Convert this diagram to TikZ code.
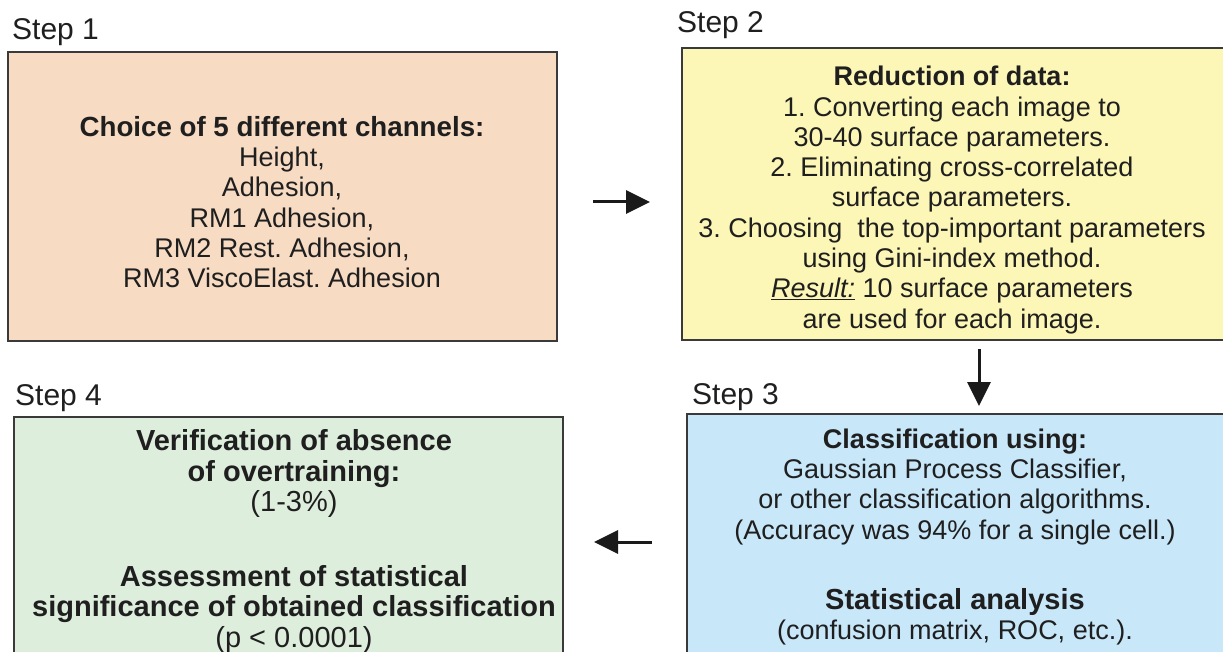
\documentclass[tikz,border=0pt]{standalone}
\usepackage{fontspec}
\setmainfont{Liberation Sans}
\usetikzlibrary{arrows.meta}
\definecolor{peach}{HTML}{F7DBC3}
\definecolor{yel}{HTML}{FCF7B7}
\definecolor{blu}{HTML}{C8E7F9}
\definecolor{grn}{HTML}{DEEEDD}
\definecolor{boxline}{HTML}{3A3A3A}
\definecolor{txt}{HTML}{1F1F1F}
\definecolor{arrowc}{HTML}{1A1A1A}
\frenchspacing
\begin{document}
\begin{tikzpicture}[x=1pt,y=-1pt,
  box/.style={draw=boxline, line width=2pt, inner sep=0pt},
  body/.style={align=center, font=\fontsize{27}{30.3}\selectfont\frenchspacing, text=txt, inner sep=0pt},
  bigbody/.style={align=center, font=\fontsize{29}{30.5}\selectfont\frenchspacing, text=txt, inner sep=0pt},
  steplabel/.style={anchor=base west, font=\fontsize{30}{36}\selectfont, text=txt, inner sep=0pt},
  flow/.style={draw=arrowc, line width=3pt, -{Triangle[length=24pt,width=23pt]}}]
\useasboundingbox (0,0) rectangle (1223,652);
\fill[white] (0,0) rectangle (1223,652);

% boxes
\node[box, fill=peach, minimum width=549.5pt, minimum height=289pt] (b1) at (282.25,196.5) {};
\node[box, fill=yel, minimum width=546pt, minimum height=292pt] (b2) at (955,194) {};
\node[box, fill=blu, minimum width=541pt, minimum height=244pt] (b3) at (957.5,536) {};
\node[box, fill=grn, minimum width=549pt, minimum height=241pt] (b4) at (288.5,537.5) {};

% step labels
\node[steplabel] (l1) at (12,40) {Step 1};
\node[steplabel] (l2) at (677,33) {Step 2};
\node[steplabel] (l3) at (692,404) {Step 3};
\node[steplabel] (l4) at (15,405) {Step 4};

% texts
\node[body] (t1) at (282,202) {{\fontsize{27.7}{30.3}\selectfont\textbf{Choice of 5 different channels:}}\\
Height,\\ Adhesion,\\ RM1 Adhesion,\\ RM2 Rest. Adhesion,\\ RM3 ViscoElast. Adhesion};
\node[body] (t2) at (952,200) {\textbf{Reduction of data:}\\
1. Converting each image to\\
30-40 surface parameters.\\
2. Eliminating cross-correlated\\
surface parameters.\\
3. Choosing\ \ the top-important parameters\\
using Gini-index method.\\
\underline{\textit{Result:}} 10 surface parameters\\
are used for each image.};
\node[body] (t3) at (955,537) {\textbf{Classification using:}\\
Gaussian Process Classifier,\\
or other classification algorithms.\\
(Accuracy was 94\% for a single cell.)\\[40pt]
{\fontsize{29}{30.3}\selectfont\textbf{Statistical analysis}}\\
(confusion matrix, ROC, etc.).};
\node[bigbody] (t4) at (294,541.5) {\textbf{Verification of absence}\\
\textbf{of overtraining:}\\
(1-3\%)\\[44pt]
\textbf{Assessment of statistical}\\
\textbf{significance of obtained classification}\\
(p < 0.0001)};

% arrows
\draw[flow, shorten <=35pt, shorten >=31pt] ([yshift=-5.5pt]b1.east) -- ([yshift=-8pt]b2.west);
\draw[flow, shorten <=8pt, shorten >=7pt] ([xshift=24pt]b2.south) -- ([xshift=21.5pt]b3.north);
\draw[flow, shorten <=34pt, shorten >=30pt] ([yshift=-6pt]b3.west) -- ([yshift=-4.5pt]b4.east);
\end{tikzpicture}
\end{document}
